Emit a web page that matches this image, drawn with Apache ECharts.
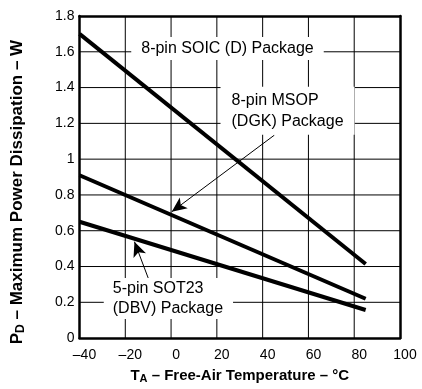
<!DOCTYPE html>
<html><head><meta charset="utf-8">
<script src="https://cdn.jsdelivr.net/npm/echarts/dist/echarts.min.js"></script>
<style>html,body{margin:0;padding:0;background:#fff}#c{width:422px;height:389px}</style>
</head><body><div id="c"></div>
<script>
// ---- data ----
const temps = [-40, 85];
const soicD = [1.70, 0.414];
const msopDGK = [0.91, 0.22];
const sot23DBV = [0.65, 0.157];
const xTicks = [-40, -20, 0, 20, 40, 60, 80, 100];
const yTicks = [0, 0.2, 0.4, 0.6, 0.8, 1, 1.2, 1.4, 1.6, 1.8];
const soicText = '8-pin SOIC (D) Package';
const msopText = '8-pin MSOP\n(DGK) Package';
const sotText = '5-pin SOT23\n(DBV) Package';
// annotation box top-left corners (data coordinates)
const soicLabelAt = [-17.4, 1.682];
const msopLabelAt = [21.6, 1.405];
const sotLabelAt = [-29.4, 0.336];
// arrows: [from, to] in data coordinates
const msopArrow = [[45.1, 1.134], [0.3, 0.706]];
const sotArrow = [[-10, 0.336], [-16, 0.539]];

const FONT = '"Liberation Sans", Arial, Helvetica, sans-serif';
const xMin = xTicks[0], xMax = xTicks[xTicks.length - 1];
const yMin = yTicks[0], yMax = yTicks[yTicks.length - 1];
const mk = vals => temps.map((t, i) => [t, vals[i]]);
const arrowML = a => ({
  silent: true, animation: false,
  symbol: ['none', 'arrow'], symbolSize: [10, 15],
  lineStyle: {color: '#000', width: 1, type: 'solid'},
  label: {show: false},
  data: [[{coord: a[0]}, {coord: a[1]}]]
});
const labelMP = (text, at, pad, lh) => ({
  silent: true, animation: false, z: 10, symbol: 'circle', symbolSize: 0,
  itemStyle: {color: 'transparent'},
  data: [{coord: at, value: 0, label: {
    show: true, position: 'inside', formatter: text,
    fontSize: 16, fontFamily: FONT, color: '#000', align: 'left', verticalAlign: 'top',
    backgroundColor: '#fff', padding: pad, lineHeight: lh
  }}]
});
const lineSeries = (vals, ml, mp) => ({
  type: 'line', data: mk(vals), symbol: 'none', showSymbol: false,
  lineStyle: {color: '#000', width: 4}, z: 3, animation: false,
  markLine: ml, markPoint: mp
});
// grid lines drawn as thin line series through the library's scales
const gridSeries = xTicks.slice(1, -1).map(v => [[v, yMin], [v, yMax]])
  .concat(yTicks.slice(1, -1).map(v => [[xMin, v], [xMax, v]]))
  .map(d => ({
    type: 'line', data: d, symbol: 'none', showSymbol: false, silent: true,
    lineStyle: {color: '#000', width: 1}, z: 3, animation: false
  }));
const frameLine = {show: true, onZero: false, lineStyle: {color: '#000', width: 2.5}};

const chart = echarts.init(document.getElementById('c'), null, {renderer: 'canvas'});
chart.setOption({
  animation: false,
  grid: {left: 73, right: 22, top: 16, bottom: 48},
  xAxis: [{
    type: 'value', min: xMin, max: xMax, interval: 20, position: 'bottom',
    axisLine: frameLine,
    axisTick: {show: false},
    splitLine: {show: false},
    axisLabel: {color: '#000', fontSize: 14, fontFamily: FONT, margin: 10, padding: [0, 0, 0, 10],
      formatter: v => String(v).replace('-', '\u2013')},
    name: '{b|T}{s|A}{b| \u2013 Free-Air Temperature \u2013 \u00b0C}',
    nameLocation: 'middle', nameGap: 28,
    nameTextStyle: {rich: {
      b: {fontSize: 15, fontWeight: 'bold', fontFamily: FONT, color: '#000', lineHeight: 18},
      s: {fontSize: 11, fontWeight: 'bold', fontFamily: FONT, color: '#000', lineHeight: 18, padding: [6, 0, 0, 0]}
    }}
  }, {
    type: 'value', min: xMin, max: xMax, interval: 20, position: 'top',
    axisLine: frameLine, axisTick: {show: false}, axisLabel: {show: false}, splitLine: {show: false}
  }],
  yAxis: [{
    type: 'value', min: yMin, max: yMax, interval: 0.2, position: 'left',
    axisLine: frameLine,
    axisTick: {show: false},
    splitLine: {show: false},
    axisLabel: {color: '#000', fontSize: 14, fontFamily: FONT, margin: 5,
      formatter: v => String(Math.round(v * 10) / 10)},
    name: '{b|P}{s|D}{b| \u2013 Maximum Power Dissipation \u2013 W}',
    nameLocation: 'middle', nameGap: 52,
    nameTextStyle: {padding: [0, 30, 0, 0], rich: {
      b: {fontSize: 17, fontWeight: 'bold', fontFamily: FONT, color: '#000', lineHeight: 20},
      s: {fontSize: 12, fontWeight: 'bold', fontFamily: FONT, color: '#000', lineHeight: 20, padding: [7, 0, 0, 0]}
    }}
  }, {
    type: 'value', min: yMin, max: yMax, interval: 0.2, position: 'right',
    axisLine: frameLine, axisTick: {show: false}, axisLabel: {show: false}, splitLine: {show: false}
  }],
  series: gridSeries.concat([
    lineSeries(soicD, undefined, labelMP(soicText, soicLabelAt, [3, 10, 3, 10], 17)),
    lineSeries(msopDGK, arrowML(msopArrow), labelMP(msopText, msopLabelAt, [3, 11, 3, 11], 21)),
    lineSeries(sot23DBV, arrowML(sotArrow), labelMP(sotText, sotLabelAt, [1, 10, 1, 9], 19.5))
  ])
});
</script></body></html>
